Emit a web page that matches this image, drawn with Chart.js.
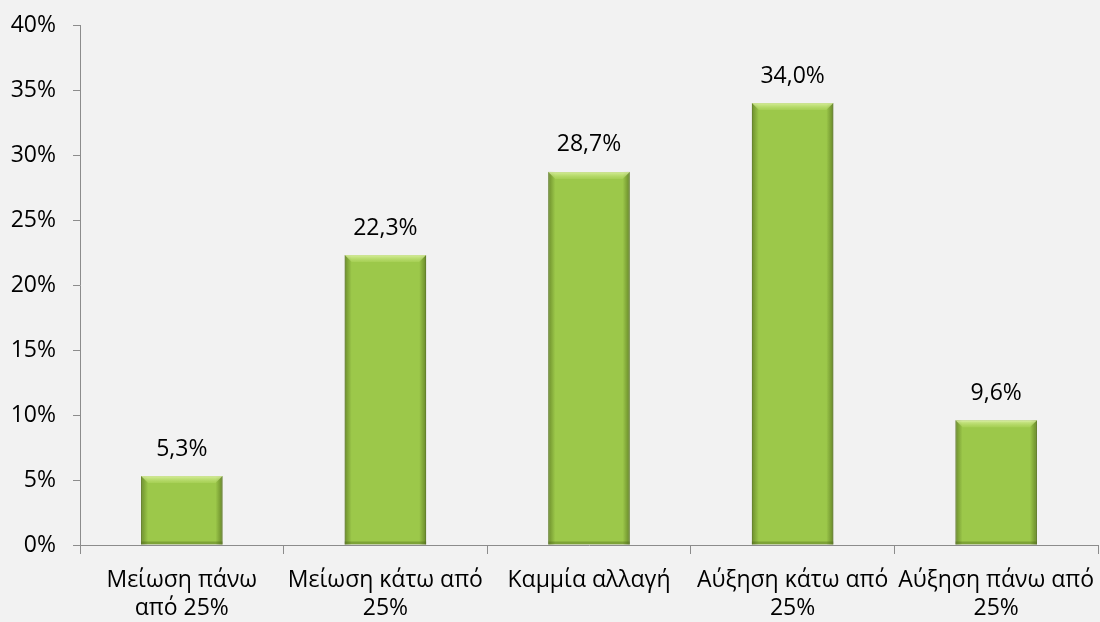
<!DOCTYPE html>
<html>
<head>
<meta charset="utf-8">
<script src="https://cdn.jsdelivr.net/npm/chart.js@4.4.1/dist/chart.umd.min.js"></script>
<style>
  html, body { margin: 0; padding: 0; background: #f2f2f2; }
  #wrap { width: 1100px; height: 622px; }
</style>
</head>
<body>
<div id="wrap"><canvas id="myChart" width="1100" height="622"></canvas></div>
<script>
var categories = [
    ["Μείωση πάνω", "από 25%"],
    ["Μείωση κάτω από", "25%"],
    ["Καμμία αλλαγή"],
    ["Αύξηση κάτω από", "25%"],
    ["Αύξηση πάνω από", "25%"]
];
var values = [5.3, 22.3, 28.7, 34.0, 9.6];
var yTicks = [0, 5, 10, 15, 20, 25, 30, 35, 40];

var FONT = "'Open Sans', sans-serif";
var SIZE = 23;

// bevelled look of the bars + value labels on top
var bevelAndLabels = {
    id: 'bevelAndLabels',
    afterDatasetsDraw: function (chart) {
        var ctx = chart.ctx;
        var meta = chart.getDatasetMeta(0);
        meta.data.forEach(function (bar, i) {
            var p = bar.getProps(['x', 'y', 'base', 'width'], true);
            var l = p.x - p.width / 2, r = p.x + p.width / 2, t = p.y, b = p.base;
            var e = 7;
            ctx.save();
            var g = ctx.createLinearGradient(l, 0, l + e, 0);
            g.addColorStop(0, 'rgba(70,95,20,0.55)');
            g.addColorStop(1, 'rgba(70,95,20,0)');
            ctx.fillStyle = g;
            ctx.fillRect(l, t, e, b - t);
            g = ctx.createLinearGradient(r - e, 0, r, 0);
            g.addColorStop(0, 'rgba(70,95,20,0)');
            g.addColorStop(1, 'rgba(70,95,20,0.6)');
            ctx.fillStyle = g;
            ctx.fillRect(r - e, t, e, b - t);
            ctx.beginPath();
            ctx.moveTo(l, t);
            ctx.lineTo(r, t);
            ctx.lineTo(r - e, t + e);
            ctx.lineTo(l + e, t + e);
            ctx.closePath();
            g = ctx.createLinearGradient(0, t, 0, t + e);
            g.addColorStop(0, 'rgba(225,245,170,0.85)');
            g.addColorStop(1, 'rgba(190,225,110,0.3)');
            ctx.fillStyle = g;
            ctx.fill();
            ctx.fillStyle = 'rgba(70,95,20,0.35)';
            ctx.fillRect(l, b - 3, r - l, 3);
            ctx.restore();

            ctx.save();
            ctx.fillStyle = '#000000';
            ctx.font = SIZE + 'px ' + FONT;
            ctx.textAlign = 'center';
            ctx.textBaseline = 'middle';
            ctx.fillText(values[i].toFixed(1).replace('.', ',') + '%', p.x, t - 27);
            ctx.restore();
        });
    }
};

new Chart("myChart", {
    type: "bar",
    data: {
        labels: categories,
        datasets: [{
            data: values,
            backgroundColor: '#9cc84a',
            borderColor: '#789b32',
            borderWidth: 1,
            barPercentage: 0.4,
            categoryPercentage: 1.0
        }]
    },
    options: {
        responsive: false,
        animation: false,
        layout: { padding: { top: 25, right: 2, left: 0, bottom: 0 } },
        plugins: {
            legend: { display: false },
            tooltip: { enabled: false }
        },
        scales: {
            x: {
                grid: {
                    display: true,
                    drawOnChartArea: false,
                    tickLength: 9,
                    color: '#8c8c8c',
                    offset: true
                },
                border: { color: '#8c8c8c', width: 1 },
                ticks: {
                    color: '#000000',
                    font: { family: FONT, size: SIZE, lineHeight: 1.2 },
                    maxRotation: 0,
                    autoSkip: false,
                    padding: 13
                },
                afterFit: function (scale) {
                    scale.height = 77;
                    scale.paddingLeft = 0;
                    scale.paddingRight = 0;
                }
            },
            y: {
                min: 0,
                max: 40,
                afterBuildTicks: function (scale) {
                    scale.ticks = yTicks.map(function (v) { return { value: v }; });
                },
                grid: {
                    display: true,
                    drawOnChartArea: false,
                    tickLength: 7,
                    color: '#8c8c8c'
                },
                border: { color: '#8c8c8c', width: 1 },
                ticks: {
                    color: '#000000',
                    font: { family: FONT, size: SIZE },
                    padding: 17,
                    callback: function (v) { return v + '%'; }
                },
                afterFit: function (scale) {
                    scale.width = 80;
                    scale.paddingTop = 0;
                    scale.paddingBottom = 0;
                }
            }
        }
    },
    plugins: [bevelAndLabels]
});
</script>
</body>
</html>
